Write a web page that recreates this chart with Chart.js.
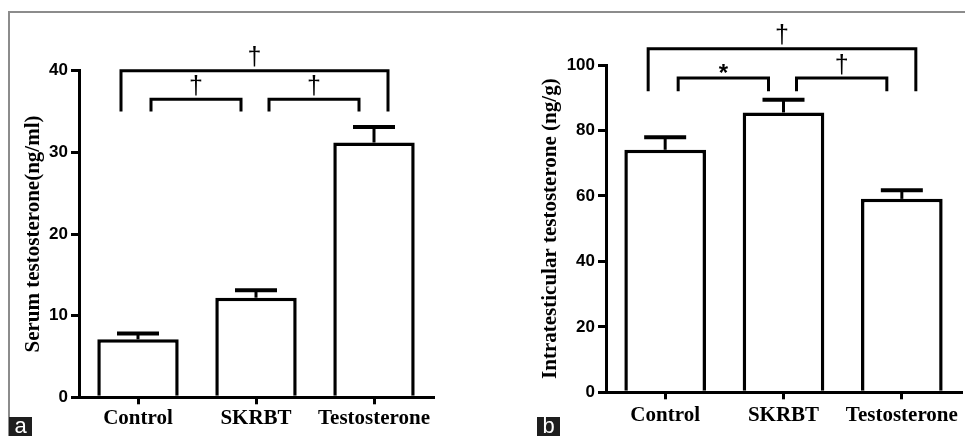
<!DOCTYPE html>
<html>
<head>
<meta charset="utf-8">
<script src="https://cdn.jsdelivr.net/npm/chart.js@4.4.1/dist/chart.umd.min.js"></script>
<style>
  html, body { margin: 0; padding: 0; background: #fff; }
  #wrap { position: relative; width: 965px; height: 436px; overflow: hidden; background: #fff; }
  #cA { position: absolute; left: 0; top: 0; }
  #cB { position: absolute; left: 480px; top: 0; }
  .frameTop { position: absolute; left: 9px; top: 11px; width: 956px; height: 2px; background: #8c8c8c; }
  .frameLeft { position: absolute; left: 8px; top: 11px; width: 2px; height: 425px; background: #8c8c8c; }
  .tag { position: absolute; top: 417px; width: 23px; height: 19px; background: #1e1e1e; color: #fff;
         font: 22px "Liberation Sans", Arial, sans-serif; line-height: 17px; text-align: center; }
</style>
</head>
<body>
<div id="wrap">
  <div class="frameTop"></div>
  <div class="frameLeft"></div>
  <canvas id="cA" width="480" height="436"></canvas>
  <canvas id="cB" width="485" height="436"></canvas>
  <div class="tag" style="left:9px">a</div>
  <div class="tag" style="left:537px">b</div>
</div>
<script>
// groups
var categories = ['Control', 'SKRBT', 'Testosterone'];

// panel a: serum testosterone (ng/ml), mean and SEM
var serumMean = [7.1, 12.2, 31.2];
var serumSem = [0.7, 0.9, 1.9];

// panel b: intratesticular testosterone (ng/g), mean and SEM
var intraMean = [74.1, 85.5, 59.1];
var intraSem = [3.8, 3.9, 2.6];

// significance brackets: [from, to, mark]
var serumSig = [[0, 1, '†'], [1, 2, '†'], [0, 2, '†']];
var intraSig = [[0, 1, '*'], [1, 2, '†'], [0, 2, '†']];

// error bars (upper only) + brackets
var extras = {
    id: 'extras',
    afterDatasetsDraw: function (chart, args, opts) {
        var ctx = chart.ctx;
        var x = chart.scales.x, y = chart.scales.y;
        var meta = chart.getDatasetMeta(0);
        ctx.save();
        ctx.strokeStyle = '#000';
        ctx.lineCap = 'butt';
        meta.data.forEach(function (bar, i) {
            var top = y.getPixelForValue(opts.mean[i] + opts.sem[i]);
            ctx.lineWidth = 3;
            ctx.beginPath();
            ctx.moveTo(bar.x, bar.y);
            ctx.lineTo(bar.x, top);
            ctx.stroke();
            ctx.lineWidth = 4;
            ctx.beginPath();
            ctx.moveTo(bar.x - 21, top);
            ctx.lineTo(bar.x + 21, top);
            ctx.stroke();
        });

        opts.sig.forEach(function (s) {
            var outer = (s[1] - s[0]) > 1;
            var lvl = y.getPixelForValue(outer ? opts.outer : opts.inner);
            var foot = y.getPixelForValue(opts.foot);
            var l = x.getPixelForValue(s[0]) + (outer ? -17 : 13);
            var r = x.getPixelForValue(s[1]) + (outer ? 14 : -15);
            ctx.lineWidth = 3;
            ctx.lineJoin = 'miter';
            ctx.beginPath();
            ctx.moveTo(l, foot);
            ctx.lineTo(l, lvl);
            ctx.lineTo(r, lvl);
            ctx.lineTo(r, foot);
            ctx.stroke();

            var star = s[2] === '*';
            ctx.font = star ? 'bold 24px "Liberation Sans"' : '25px "Liberation Sans"';
            ctx.fillStyle = '#000';
            ctx.textAlign = 'center';
            ctx.textBaseline = 'alphabetic';
            var m = ctx.measureText(s[2]);
            var cy = lvl - (star ? 10 : 14);
            var base = cy + (m.actualBoundingBoxAscent - m.actualBoundingBoxDescent) / 2;
            ctx.fillText(s[2], (l + r) / 2, base);
        });
        ctx.restore();
    }
};

function makeChart(id, mean, sem, sig, cfg) {
    return new Chart(document.getElementById(id).getContext('2d'), {
        type: 'bar',
        data: {
            labels: categories,
            datasets: [{
                data: mean,
                backgroundColor: '#fff',
                borderColor: '#000',
                borderWidth: 3.5,
                borderSkipped: 'bottom',
                categoryPercentage: 1,
                barPercentage: 0.69
            }]
        },
        options: {
            responsive: false,
            animation: false,
            devicePixelRatio: 1,
            layout: { padding: { left: 0, top: cfg.top, right: cfg.right, bottom: 0 } },
            plugins: {
                legend: { display: false },
                tooltip: { enabled: false },
                extras: { mean: mean, sem: sem, sig: sig, inner: cfg.inner, outer: cfg.outer, foot: cfg.foot }
            },
            scales: {
                x: {
                    afterFit: function (s) { s.height = cfg.xh; },
                    grid: { drawOnChartArea: false, offset: false, color: '#000', lineWidth: 3, tickLength: 7 },
                    border: { color: '#000', width: 3 },
                    ticks: {
                        color: '#000', padding: cfg.xpad, maxRotation: 0,
                        font: { family: 'Liberation Serif', size: 21, weight: 'bold' }
                    }
                },
                y: {
                    min: 0, max: cfg.max,
                    afterFit: function (s) { s.width = cfg.yw; },
                    grid: { drawOnChartArea: false, color: '#000', lineWidth: 3, tickLength: 8 },
                    border: { color: '#000', width: 3 },
                    ticks: {
                        stepSize: cfg.step, color: '#000', padding: 3,
                        font: { family: 'Liberation Sans', size: 17, weight: 'bold' }
                    },
                    title: {
                        display: true, text: cfg.title, color: '#000',
                        padding: { top: cfg.tpad, bottom: 0 },
                        font: { family: 'Liberation Serif', size: 21, weight: 'bold' }
                    }
                }
            }
        },
        plugins: [extras]
    });
}

makeChart('cA', serumMean, serumSem, serumSig, {
    top: 70.7, right: 47, xh: 38.7, yw: 79, xpad: 2, max: 40, step: 10, tpad: 21,
    title: 'Serum testosterone(ng/ml)', inner: 36.5, outer: 40, foot: 35
});
makeChart('cB', intraMean, intraSem, intraSig, {
    top: 65, right: 4, xh: 43.7, yw: 126, xpad: 4, max: 100, step: 20, tpad: 58,
    title: 'Intratesticular testosterone (ng/g)', inner: 96, outer: 105, foot: 92
});
</script>
</body>
</html>
